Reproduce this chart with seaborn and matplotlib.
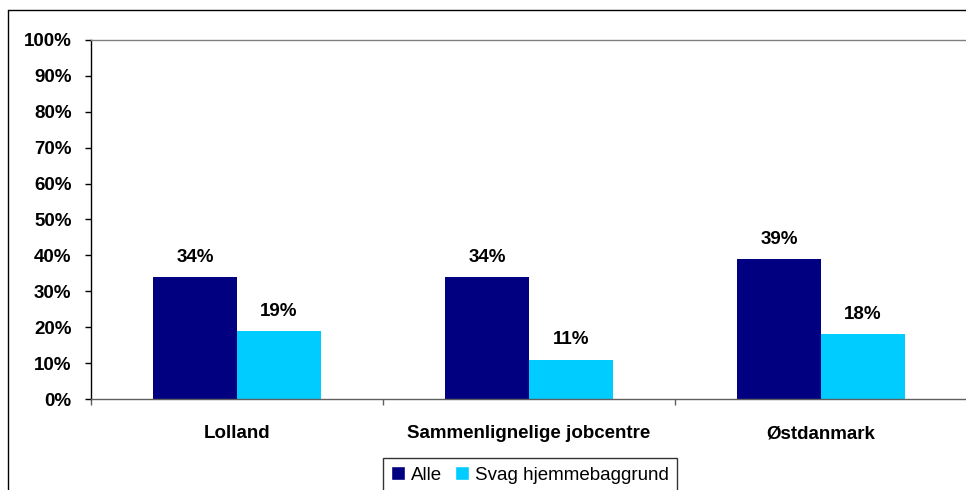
import pandas as pd
import numpy as np
import matplotlib
matplotlib.use("Agg")
import matplotlib.pyplot as plt
from matplotlib.lines import Line2D
import seaborn as sns

# Data
categories = ["Lolland", "Sammenlignelige jobcentre", "Østdanmark"]
series = ["Alle", "Svag hjemmebaggrund"]
alle = [34, 34, 39]
svag = [19, 11, 18]
colors = ["#000080", "#00CCFF"]

df = pd.DataFrame({
    "kategori": categories * 2,
    "gruppe": [series[0]] * 3 + [series[1]] * 3,
    "andel": alle + svag,
})

sns.set_style("white")
plt.rcParams["font.family"] = ["Liberation Sans", "DejaVu Sans"]
plt.rcParams["font.size"] = 13.5
plt.rcParams["text.color"] = "black"
plt.rcParams["xtick.color"] = "black"
plt.rcParams["ytick.color"] = "black"

W, H = 966, 490
fig = plt.figure(figsize=(W / 100, H / 100), dpi=100)
ax = fig.add_axes([91 / W, 1 - 399 / H, (967 - 91) / W, (399 - 40) / H])

sns.barplot(data=df, x="kategori", y="andel", hue="gruppe", order=categories,
            hue_order=series, palette=colors, width=0.575, saturation=1,
            linewidth=0, ax=ax, legend=False)

for cont in ax.containers:
    ax.bar_label(cont, labels=[f"{v:.0f}%" for v in cont.datavalues],
                 padding=8, fontsize=13.5, fontweight="bold", color="black")

ax.set_xlim(-0.5, 2.5)
ax.set_ylim(0, 100)
ax.set_yticks(np.arange(0, 101, 10))
ax.set_yticklabels([f"{v}%" for v in range(0, 101, 10)], fontweight="bold")
ax.tick_params(axis="y", left=True, length=4, width=1, pad=10, color="black", labelcolor="black")
ax.set_xticks(range(len(categories)))
ax.set_xticklabels(categories, fontweight="bold")
ax.set_xticks([-0.5, 0.5, 1.5, 2.5], minor=True)
ax.tick_params(axis="x", which="major", length=0, pad=19, labelcolor="black")
ax.tick_params(axis="x", which="minor", bottom=True, length=4, width=1, color="#606060")
ax.set_xlabel("")
ax.set_ylabel("")

ax.spines["left"].set_color("black")
ax.spines["bottom"].set_color("#606060")
ax.spines["top"].set_color("#808080")
ax.spines["right"].set_visible(False)
for s in ["left", "bottom", "top"]:
    ax.spines[s].set_linewidth(1)

# outer chart frame (cropped at right and bottom)
fig.add_artist(Line2D([8 / W, 8 / W], [0, 1 - 10 / H], transform=fig.transFigure, color="black", lw=1))
fig.add_artist(Line2D([8 / W, 1], [1 - 10 / H, 1 - 10 / H], transform=fig.transFigure, color="black", lw=1))

handles = [plt.Rectangle((0, 0), 1, 1, facecolor=c) for c in colors]
leg = fig.legend(handles, series, loc="upper center", bbox_to_anchor=(530 / W, 1 - 458 / H),
                 ncol=2, frameon=True, fancybox=False, edgecolor="black", fontsize=13.5,
                 handlelength=0.75, handleheight=0.75, handletextpad=0.3, columnspacing=0.7,
                 borderpad=0.45, borderaxespad=0)
leg.get_frame().set_linewidth(1)

fig.savefig("out.png", dpi=100)
